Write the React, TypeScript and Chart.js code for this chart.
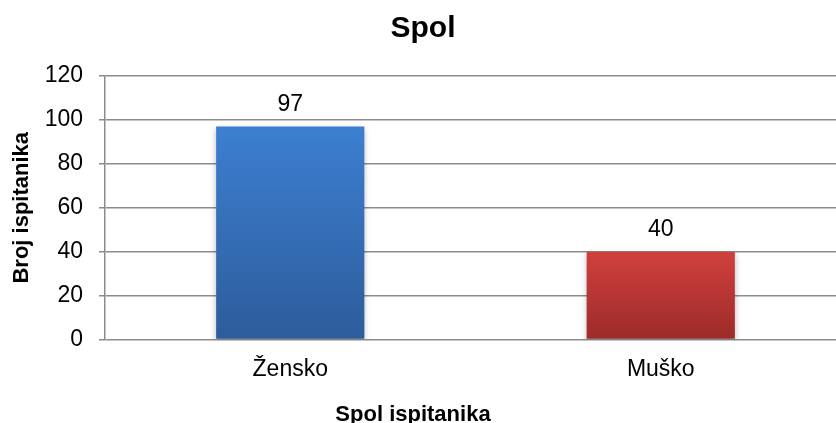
import React, { useEffect, useRef } from "react";
import { Chart, registerables } from "chart.js";

Chart.register(...registerables);

const categories = ["Žensko", "Muško"];
const values = [97, 40];
const yMin = 0;
const yMax = 120;
const yStep = 20;
const chartTitle = "Spol";
const yTitle = "Broj ispitanika";
const xTitle = "Spol ispitanika";
const topColors = ["#3c7fd1", "#d0403d"];
const bottomColors = ["#2d5c9b", "#9c2b29"];

const FONT = "'Liberation Sans', Arial, sans-serif";
const GRID = "#8c8c8c";

export default function App() {
  const ref = useRef<HTMLCanvasElement | null>(null);

  useEffect(() => {
    const canvas = ref.current;
    if (!canvas) return;

    const extras = {
      id: "extras",
      beforeDatasetsDraw(chart: any) {
        const ctx = chart.ctx;
        ctx.save();
        ctx.shadowColor = "rgba(0,0,0,0.28)";
        ctx.shadowBlur = 6;
        ctx.shadowOffsetX = 0;
        ctx.shadowOffsetY = 2;
      },
      afterDatasetsDraw(chart: any) {
        chart.ctx.restore();
      },
      afterDraw(chart: any) {
        const ctx = chart.ctx;
        const meta = chart.getDatasetMeta(0);
        ctx.save();
        ctx.fillStyle = "#000";
        ctx.font = `23px ${FONT}`;
        ctx.textAlign = "center";
        ctx.textBaseline = "alphabetic";
        meta.data.forEach((bar: any, i: number) => {
          ctx.fillText(String(values[i]), bar.x, bar.y - 16);
        });
        ctx.font = `bold 22px ${FONT}`;
        ctx.fillText(xTitle, 413, 421);
        ctx.restore();
      },
    };

    const chart = new Chart(canvas, {
      type: "bar",
      data: {
        labels: categories,
        datasets: [
          {
            data: values,
            barPercentage: 0.8,
            categoryPercentage: 0.5,
            borderWidth: 0,
            backgroundColor: (c: any) => {
              const i = c.dataIndex ?? 0;
              const ch = c.chart;
              const y = ch.scales && ch.scales.y;
              if (!ch.chartArea || !y) return topColors[i];
              const top = y.getPixelForValue(values[i]);
              const bottom = y.getPixelForValue(0);
              const g = ch.ctx.createLinearGradient(0, top, 0, bottom);
              g.addColorStop(0, topColors[i]);
              g.addColorStop(1, bottomColors[i]);
              return g;
            },
          },
        ],
      },
      options: {
        responsive: false,
        animation: false,
        devicePixelRatio: 1,
        layout: { padding: 0 },
        plugins: {
          legend: { display: false },
          tooltip: { enabled: false },
          title: {
            display: true,
            text: chartTitle,
            color: "#000",
            font: { family: FONT, size: 30, weight: "bold" },
            padding: { top: 11, bottom: 29 },
          },
        },
        scales: {
          x: {
            grid: { display: false, drawTicks: false },
            border: { display: false },
            ticks: {
              color: "#000",
              font: { family: FONT, size: 23 },
              padding: 16,
            },
            afterFit: (s: any) => {
              s.height = 83.5;
            },
          },
          y: {
            min: yMin,
            max: yMax,
            ticks: {
              stepSize: yStep,
              color: "#000",
              font: { family: FONT, size: 23 },
              padding: 16,
            },
            grid: {
              color: GRID,
              lineWidth: 1.5,
              drawTicks: true,
              tickLength: 6,
            },
            border: { display: true, color: GRID, width: 1.5 },
            title: {
              display: true,
              text: yTitle,
              color: "#000",
              font: { family: FONT, size: 22, weight: "bold" },
              padding: { top: 9, bottom: 0 },
            },
            afterFit: (s: any) => {
              s.width = 105;
            },
          },
        },
      },
      plugins: [extras],
    });

    return () => chart.destroy();
  }, []);

  return (
    <div
      style={{
        position: "fixed",
        left: 0,
        top: 0,
        width: 836,
        height: 423,
        overflow: "hidden",
        background: "#fff",
      }}
    >
      <canvas ref={ref} width={846} height={423} style={{ display: "block" }} />
    </div>
  );
}
